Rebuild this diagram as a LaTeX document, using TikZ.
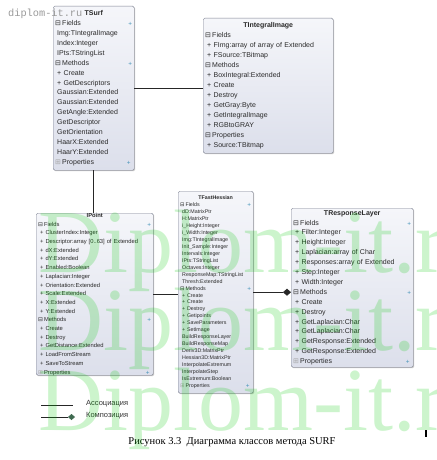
\documentclass[tikz,border=0pt]{standalone}
\usepackage{fontspec}
\setmainfont{Liberation Serif}
\setsansfont{Liberation Sans}
\newfontfamily\symf{DejaVu Sans}
\newfontfamily\monof{Liberation Mono}
\usepackage{xcolor}
\usetikzlibrary{arrows.meta,shadows}
\definecolor{boxborder}{HTML}{7F8392}
\definecolor{boxtop}{HTML}{F5F6FA}
\definecolor{boxfill}{HTML}{DCDFEB}
\definecolor{membertext}{HTML}{2A2A2A}
\definecolor{plusteal}{HTML}{3A8DB5}
\definecolor{wmgreen}{HTML}{00C800}
\definecolor{legdiamond}{HTML}{3F6A50}
\newcommand{\clshead}[1]{\makebox[\linewidth][c]{\bfseries #1}}
\newcommand{\clsgrp}[1]{{\symf\char"229F}\,#1\hfill{\color{plusteal}\symf\tiny+}\hspace*{1.5pt}}
\newcommand{\clsgrpnp}[1]{{\symf\char"229F}\,#1}
\newcommand{\clsgrpc}[1]{{\color{black!35}\symf\char"229E}\,#1\hfill{\color{plusteal}\symf\tiny+}\hspace*{1.5pt}}
\newcommand{\clsmem}[1]{\hspace*{2pt}+\ #1}
\newcommand{\clsfld}[1]{\hspace*{2pt}#1}
\tikzset{
  classbox/.style={draw=boxborder,rounded corners=1.5pt,top color=boxtop,bottom color=boxfill,
    anchor=north west,align=left,inner xsep=2pt,inner ysep=0pt,text=membertext,
    drop shadow={shadow xshift=1pt,shadow yshift=-1pt,fill=black!45}},
  assoc/.style={draw=black!85,line width=0.6pt},
  compos/.style={draw=black!85,line width=0.6pt,-{Diamond[length=8pt,width=7pt]}},
  legcompos/.style={draw=black!85,line width=0.6pt,-{Diamond[length=7pt,width=6pt,fill=legdiamond,color=legdiamond]}},
  legendtext/.style={anchor=west,inner sep=0pt,text=black!80,font=\sffamily\fontsize{7.5}{9}\selectfont},
  watermark/.style={anchor=base west,inner sep=0pt,text=wmgreen,opacity=0.2,font=\fontsize{90}{90}\selectfont}
}

\begin{document}
\begin{tikzpicture}[x=1pt,y=-1pt]
\useasboundingbox (0,0) rectangle (436,460);
\node[classbox,text width=77pt,minimum height=164pt,font=\sffamily\fontsize{7}{9.9}\selectfont] (tsurf) at (53,6) {%
\clshead{TSurf}\\
\clsgrp{Fields}\\
\clsfld{Img:TIntegralImage}\\
\clsfld{Index:Integer}\\
\clsfld{IPts:TStringList}\\
\clsgrp{Methods}\\
\clsmem{Create}\\
\clsmem{GetDescriptors}\\
\clsfld{Gaussian:Extended}\\
\clsfld{Gaussian:Extended}\\
\clsfld{GetAngle:Extended}\\
\clsfld{GetDescriptor}\\
\clsfld{GetOrientation}\\
\clsfld{HaarX:Extended}\\
\clsfld{HaarY:Extended}\\
\clsgrpc{Properties}};
\node[classbox,text width=126pt,minimum height=135pt,font=\sffamily\fontsize{7}{10}\selectfont] (tint) at (203,18) {%
\clshead{TIntegralImage}\\
\clsgrpnp{Fields}\\
\clsmem{FImg:array of array of Extended}\\
\clsmem{FSource:TBitmap}\\
\clsgrpnp{Methods}\\
\clsmem{BoxIntegral:Extended}\\
\clsmem{Create}\\
\clsmem{Destroy}\\
\clsmem{GetGray:Byte}\\
\clsmem{GetIntegralImage}\\
\clsmem{RGBtoGRAY}\\
\clsgrpnp{Properties}\\
\clsmem{Source:TBitmap}};
\node[classbox,text width=113pt,minimum height=158pt,font=\sffamily\fontsize{5.8}{8.7}\selectfont] (ipoint) at (36,213) {%
\clshead{IPoint}\\
\clsgrp{Fields}\\
\clsmem{ClusterIndex:Integer}\\
\clsmem{Descriptor:array [0..63] of Extended}\\
\clsmem{dX:Extended}\\
\clsmem{dY:Extended}\\
\clsmem{Enabled:Boolean}\\
\clsmem{Laplacian:Integer}\\
\clsmem{Orientation:Extended}\\
\clsmem{Scale:Extended}\\
\clsmem{X:Extended}\\
\clsmem{Y:Extended}\\
\clsgrp{Methods}\\
\clsmem{Create}\\
\clsmem{Destroy}\\
\clsmem{GetDistance:Extended}\\
\clsmem{LoadFromStream}\\
\clsmem{SaveToStream}\\
\clsgrpc{Properties}};
\node[classbox,text width=71pt,minimum height=202pt,font=\sffamily\fontsize{5.3}{6.95}\selectfont] (tfh) at (178,191) {%
\clshead{TFastHessian}\\
\clsgrp{Fields}\\
\clsfld{dD:MatrixPtr}\\
\clsfld{H:MatrixPtr}\\
\clsfld{i\_Height:Integer}\\
\clsfld{i\_Width:Integer}\\
\clsfld{Img:TIntegralImage}\\
\clsfld{Init\_Sample:Integer}\\
\clsfld{Intervals:Integer}\\
\clsfld{IPts:TStringList}\\
\clsfld{Octaves:Integer}\\
\clsfld{ResponseMap:TStringList}\\
\clsfld{Thresh:Extended}\\
\clsgrp{Methods}\\
\clsmem{Create}\\
\clsmem{Create}\\
\clsmem{Destroy}\\
\clsmem{Getipoints}\\
\clsmem{SaveParameters}\\
\clsmem{SetImage}\\
\clsfld{BuildResponseLayer}\\
\clsfld{BuildResponseMap}\\
\clsfld{Deriv3D:MatrixPtr}\\
\clsfld{Hessian3D:MatrixPtr}\\
\clsfld{InterpolateExtremum}\\
\clsfld{InterpolateStep}\\
\clsfld{IsExtremum:Boolean}\\
\clsgrpc{Properties}};
\node[classbox,text width=118pt,minimum height=159pt,font=\sffamily\fontsize{7}{9.9}\selectfont] (trl) at (291,208) {%
\clshead{TResponseLayer}\\
\clsgrp{Fields}\\
\clsmem{Filter:Integer}\\
\clsmem{Height:Integer}\\
\clsmem{Laplacian:array of Char}\\
\clsmem{Responses:array of Extended}\\
\clsmem{Step:Integer}\\
\clsmem{Width:Integer}\\
\clsgrp{Methods}\\
\clsmem{Create}\\
\clsmem{Destroy}\\
\clsmem{GetLaplacian:Char}\\
\clsmem{GetLaplacian:Char}\\
\clsmem{GetResponse:Extended}\\
\clsmem{GetResponse:Extended}\\
\clsgrpc{Properties}};
\draw[assoc] (tsurf.east) -- (tsurf.east -| tint.west);
\draw[assoc] (tsurf.south) -- (tsurf.south |- ipoint.north);
\draw[assoc] (ipoint.east) -- (ipoint.east -| tfh.west);
\draw[compos] (tfh.east) -- (tfh.east -| trl.west);
\coordinate (la1) at (41,405);
\coordinate (la2) at (73,405);
\coordinate (lc1) at (41,417);
\coordinate (lc2) at (75,417);
\draw[assoc] (la1) -- (la2);
\draw[legcompos] (lc1) -- (lc2);
\node[legendtext] (lassoc) at (86,404) {Ассоциация};
\node[legendtext] (lcomp) at (86,416) {Композиция};
\node[font=\fontsize{10.5}{12}\selectfont,inner sep=0pt] (caption) at (232,442) {Рисунок 3.3\ \ Диаграмма классов метода SURF};
\draw[line width=1.6pt] (426,430) -- (426,437);
\node[anchor=west,inner sep=0pt,text=black!40,font=\monof\fontsize{10.3}{11}\selectfont] (wmsmall) at (8,14) {diplom-it.ru};
\begin{scope}
\clip (0,0) rectangle (436,460);
\node[watermark] (wm1) at (38,272) {Diplom-it.ru};
\node[watermark] (wm2) at (38,350) {Diplom-it.ru};
\node[watermark] (wm3) at (38,430) {Diplom-it.ru};
\end{scope}
\end{tikzpicture}
\end{document}
